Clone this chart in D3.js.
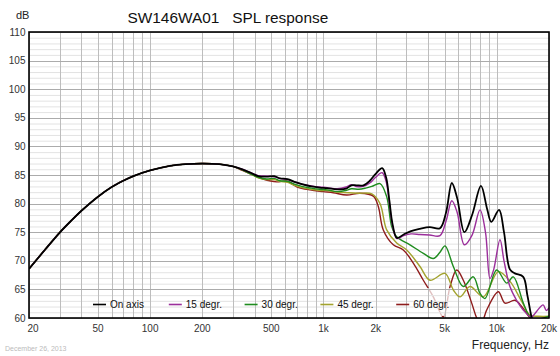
<!DOCTYPE html>
<html><head><meta charset="utf-8">
<script src="https://cdn.jsdelivr.net/npm/d3@7"></script>
<style>
html,body{margin:0;padding:0;background:#fff;}
svg{display:block;font-family:"Liberation Sans",Arial,sans-serif;}
</style></head>
<body><svg id="c" width="560" height="356"></svg>
<script>
// ---------- data ----------
const xTickValues = [20,50,100,200,500,1000,2000,5000,10000,20000];
const xTickLabels = ["20","50","100","200","500","1k","2k","5k","10k","20k"];
const yTickValues = [60,65,70,75,80,85,90,95,100,105,110];
const gridFreqs = [20,30,40,50,60,70,80,90,100,200,300,400,500,600,700,800,900,1000,2000,3000,4000,5000,6000,7000,8000,9000,10000,20000];

const seriesNames = ["On axis","15 degr.","30 degr.","45 degr.","60 degr."];
const seriesColors = ["#000000","#9b2f9b","#1f8c1f","#a3a32e","#8e1c1c"];

// shared low-frequency part (all angles identical below ~350 Hz)
const lowFreq = [[20,68.6],[25,72.1],[30,74.9],[35,77.0],[40,78.7],[50,81.2],[60,82.9],[70,84.0],[80,84.8],[100,85.8],[130,86.6],[160,86.9],[200,87.0],[250,86.9],[300,86.5]];

const onAxis = [[340,86.0],[380,85.4],[420,84.8],[470,84.7],[520,84.8],[560,84.4],[620,84.3],[680,83.8],[750,83.4],[850,83.0],[950,82.8],[1050,82.7],[1200,82.5],[1350,82.6],[1450,83.2],[1550,83.2],[1700,83.2],[1850,84.0],[2000,85.2],[2180,86.2],[2300,84.5],[2400,80.5],[2500,76.5],[2650,74.0],[2900,74.6],[3200,75.2],[3600,75.6],[4100,75.9],[4700,75.7],[5100,78.5],[5500,83.6],[5900,81.0],[6500,75.0],[7200,78.0],[8100,83.1],[8800,79.0],[9300,76.8],[10300,78.9],[11000,75.0],[11900,68.5],[12700,67.8],[14200,67.2],[15000,64.0],[15900,60.0],[17000,57.0]];

const deg15 = [[340,86.0],[380,85.4],[420,84.9],[470,84.8],[520,84.7],[560,84.4],[620,84.2],[680,83.8],[750,83.4],[850,83.1],[950,82.9],[1050,82.8],[1200,82.6],[1350,82.9],[1450,83.3],[1550,83.0],[1700,83.0],[1850,83.6],[2000,84.6],[2180,85.4],[2300,83.8],[2400,80.0],[2500,76.2],[2650,73.9],[2900,74.4],[3200,74.7],[3600,74.6],[4100,74.5],[4700,74.4],[5100,77.0],[5500,80.5],[5900,78.5],[6500,72.8],[7200,74.5],[8000,78.9],[8600,75.0],[9136,66.9],[9600,68.5],[10430,73.7],[11000,70.0],[11900,65.5],[13000,63.1],[14200,61.4],[15800,60.2],[17000,61.2],[18500,62.3],[19300,61.3],[20000,61.8]];

const deg30 = [[340,85.9],[380,85.2],[420,84.6],[470,84.3],[520,84.4],[560,84.0],[620,83.9],[680,83.4],[750,83.0],[850,82.7],[950,82.5],[1050,82.4],[1200,82.1],[1350,82.3],[1450,82.6],[1600,82.5],[1750,82.7],[1900,83.0],[2119,83.5],[2316,81.2],[2475,76.0],[2645,74.2],[3155,72.8],[3767,71.3],[4301,70.4],[4700,71.5],[5024,72.6],[5612,69.0],[6409,65.5],[7317,67.2],[7997,64.3],[8551,63.4],[9982,68.4],[11400,66.1],[12450,67.2],[14220,62.6],[15540,60.2],[17000,59.8],[20000,60.3]];

const deg45 = [[340,85.9],[380,85.2],[420,84.5],[470,84.2],[520,84.2],[560,83.9],[620,83.7],[680,83.2],[750,82.8],[850,82.5],[950,82.3],[1050,82.3],[1200,82.0],[1400,81.9],[1600,81.8],[1900,81.7],[2119,80.0],[2316,75.4],[2645,73.1],[3021,71.9],[3604,69.0],[4118,66.6],[5024,67.8],[5612,64.9],[6131,63.7],[7003,65.5],[8360,63.7],[10200,68.1],[11913,66.4],[13915,62.9],[15540,60.5],[17500,60.3],[20000,60.3]];

const deg60 = [[340,85.8],[400,84.9],[448,84.3],[537,83.8],[614,83.95],[701,82.95],[836,82.4],[997,82.1],[1140,81.9],[1362,81.5],[1624,81.8],[1938,81.3],[2071,79.5],[2213,75.4],[2529,72.8],[2887,71.9],[3297,69.6],[3767,66.6],[4301,63.7],[4911,60.2],[5371,65.5],[5870,68.4],[6409,66.6],[7163,62.6],[7657,60.0],[8100,58.8],[8743,61.4],[10200,64.6],[11150,62.6],[12730,63.1],[13915,62.0],[15540,60.0],[17000,58.5]];

const seriesData = [onAxis,deg15,deg30,deg45,deg60];

// ---------- layout ----------
const L=29,R=549,T=32,B=318;
const svg = d3.select("#c");
const x = d3.scaleLog().domain([20,20000]).range([L,R]);
const y = d3.scaleLinear().domain([60,110]).range([B,T]);

const defs = svg.append("defs");
defs.append("clipPath").attr("id","plotClip").append("rect").attr("x",L).attr("y",T).attr("width",R-L).attr("height",B-T);
const legBox = {x:88,y:288,w:364,h:28};
defs.append("clipPath").attr("id","legClip").append("rect").attr("x",legBox.x).attr("y",legBox.y).attr("width",legBox.w).attr("height",legBox.h);

function drawGrid(g){
  const minorDb = d3.range(60,111,1).filter(v=>v%5!==0);
  g.selectAll("line.hm").data(minorDb).join("line")
    .attr("x1",L).attr("x2",R).attr("y1",d=>y(d)+0.5).attr("y2",d=>y(d)+0.5)
    .attr("stroke","#e3e3e3").attr("stroke-width",1);
  g.selectAll("line.vf").data(gridFreqs).join("line")
    .attr("y1",T).attr("y2",B).attr("x1",d=>Math.round(x(d))+0.5).attr("x2",d=>Math.round(x(d))+0.5)
    .attr("stroke","#bdbdbd").attr("stroke-width",1);
  g.selectAll("line.hM").data(yTickValues).join("line")
    .attr("x1",L).attr("x2",R).attr("y1",d=>Math.round(y(d))+0.5).attr("y2",d=>Math.round(y(d))+0.5)
    .attr("stroke","#ababab").attr("stroke-width",1);
}
drawGrid(svg.append("g"));

// curves
const line = d3.line().x(d=>x(d[0])).y(d=>y(d[1])).curve(d3.curveCatmullRom.alpha(0.5));
const curvesG = svg.append("g").attr("clip-path","url(#plotClip)");
for(let i=seriesData.length-1;i>=0;i--){
  const pts = lowFreq.concat(seriesData[i]);
  curvesG.append("path").datum(pts).attr("d",line)
    .attr("fill","none").attr("stroke",seriesColors[i])
    .attr("stroke-width", i===0?1.8:1.4).attr("stroke-linejoin","round");
}

// legend background (semi-transparent) + grid redrawn inside it
svg.append("rect").attr("x",legBox.x).attr("y",legBox.y).attr("width",legBox.w).attr("height",legBox.h)
  .attr("fill","#fff").attr("fill-opacity",0.72);
drawGrid(svg.append("g").attr("clip-path","url(#legClip)"));

// legend items
const leg = svg.append("g");
seriesNames.forEach((n,i)=>{
  const lx = 93 + i*75.8, ly = 304.5;
  leg.append("line").attr("x1",lx).attr("x2",lx+13).attr("y1",ly).attr("y2",ly)
    .attr("stroke",seriesColors[i]).attr("stroke-width",1.6);
  leg.append("text").attr("x",lx+17).attr("y",ly+3.8).attr("font-size",10).attr("fill","#111").text(n);
});

// frame
svg.append("rect").attr("x",L).attr("y",T).attr("width",R-L).attr("height",B-T)
  .attr("fill","none").attr("stroke","#000").attr("stroke-width",1.6);

// axes labels
const yAxisG = svg.append("g");
yAxisG.selectAll("text").data(yTickValues).join("text")
  .attr("x",25.5).attr("y",d=>y(d)+3.5).attr("text-anchor","end")
  .attr("font-size",10).attr("fill","#333").text(d=>d);
const xAxisG = svg.append("g");
xAxisG.selectAll("text").data(xTickValues).join("text")
  .attr("x",(d,i)=> i===0 ? x(d)+4 : x(d)).attr("y",332).attr("text-anchor","middle")
  .attr("font-size",10).attr("fill","#333").text((d,i)=>xTickLabels[i]);

svg.append("text").attr("x",16).attr("y",18.5).attr("font-size",11).attr("fill","#222").text("dB");
svg.append("text").attr("x",127.5).attr("y",22.7).attr("font-size",15.4).attr("fill","#111")
  .attr("xml:space","preserve").style("white-space","pre").text("SW146WA01   SPL response");
svg.append("text").attr("x",549).attr("y",348.5).attr("text-anchor","end").attr("font-size",12).attr("fill","#222").text("Frequency, Hz");
svg.append("text").attr("x",5).attr("y",351).attr("font-size",7).attr("fill","#bbbbbb").text("December 26, 2013");
</script>
</body></html>
